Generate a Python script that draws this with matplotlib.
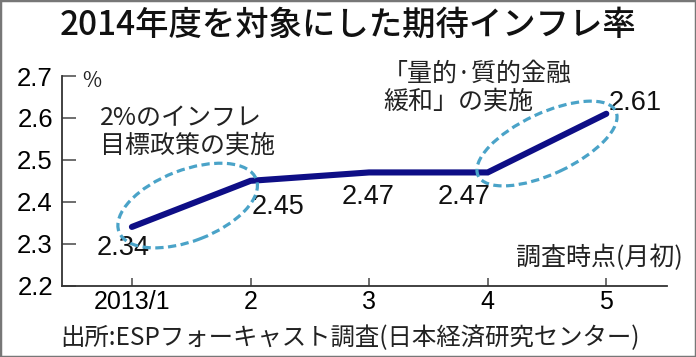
import numpy as np
import matplotlib
matplotlib.use('Agg')
import matplotlib.pyplot as plt
from matplotlib.patches import Ellipse, Rectangle
from matplotlib.transforms import ScaledTranslation

# data
x_labels = ['2013/1', '2', '3', '4', '5']
values = [2.34, 2.45, 2.47, 2.47, 2.61]
y_ticks = [2.2, 2.3, 2.4, 2.5, 2.6, 2.7]

JP = ['Noto Sans CJK JP', 'DejaVu Sans']
NUM = ['Liberation Sans Narrow', 'Liberation Sans', 'Noto Sans CJK JP']

fig = plt.figure(figsize=(6.96, 3.57), dpi=100)
fig.patch.set_facecolor('white')
ax = fig.add_axes([0.089, 0.2, 0.869, 0.587])

xs = np.arange(len(values))
ax.plot(xs, values, color='#0e0e86', lw=4.4, solid_capstyle='round', solid_joinstyle='miter', zorder=3)

ax.set_xlim(-0.59, 4.51)
ax.set_ylim(2.2, 2.7)
ax.set_yticks(y_ticks)
ax.set_yticklabels([f'{v:.1f}' for v in y_ticks], family=NUM, fontsize=18.5)
ax.set_xticks(xs)
ax.set_xticklabels(x_labels, family=NUM, fontsize=18)
ax.tick_params(axis='y', direction='in', length=10, width=1.2, color='#555', pad=6.5)
ax.tick_params(axis='x', direction='in', length=6, width=1.2, color='#555', pad=3)
for s in ['top', 'right']:
    ax.spines[s].set_visible(False)
for s in ['left', 'bottom']:
    ax.spines[s].set_linewidth(1.3)
    ax.spines[s].set_color('#333')

# value labels (offsets in points)
offsets = [(-6, -15), (19.5, -19), (-1, -18), (-17, -18), (21, 8)]
for x, v, (dx, dy) in zip(xs, values, offsets):
    ax.annotate(f'{v:.2f}', (x, v), xytext=(dx, dy), textcoords='offset points',
                ha='center', va='center', family=NUM, fontsize=19.5, color='#111')

# dashed ellipses: center in data, size in inches
for cx, cy, w, h, ang in [(0.47, 2.391, 1.47, 0.71, 21), (3.50, 2.539, 1.52, 0.61, 25)]:
    tr = fig.dpi_scale_trans + ScaledTranslation(cx, cy, ax.transData)
    e = Ellipse((0, 0), w, h, angle=ang, transform=tr, fill=False,
                ec='#4aa3c8', lw=2.3, ls=(0, (2.6, 1.4)), zorder=4)
    ax.add_artist(e)

fig.text(0.5, 0.93, '2014年度を対象にした期待インフレ率', ha='center', va='center',
         family=JP, fontsize=24, fontweight='medium', color='#111')
fig.text(82/696, 1 - 81/357, '%', ha='left', va='center', family=JP, fontsize=15, color='#222')
fig.text(100/696, 1 - 131.5/357, '2%のインフレ\n目標政策の実施', ha='left', va='center',
         family=JP, fontsize=18, linespacing=1.1, color='#222')
fig.text(383/696, 1 - 88/357, '「量的·質的金融\n緩和」の実施', ha='left', va='center',
         family=JP, fontsize=18, linespacing=1.1, color='#222')
fig.text(683/696, 1 - 258/357, '調査時点(月初)', ha='right', va='center',
         family=JP, fontsize=18, color='#222')
fig.text(350/696, 1 - 338/357, '出所:ESPフォーキャスト調査(日本経済研究センター)', ha='center', va='center',
         family=JP, fontsize=17.6, color='#222')

fig.patches.append(Rectangle((0, 0), 1, 1, transform=fig.transFigure, fill=False,
                             ec='#777', lw=2.5, zorder=10))

fig.savefig('out.png', dpi=100, facecolor='white')
